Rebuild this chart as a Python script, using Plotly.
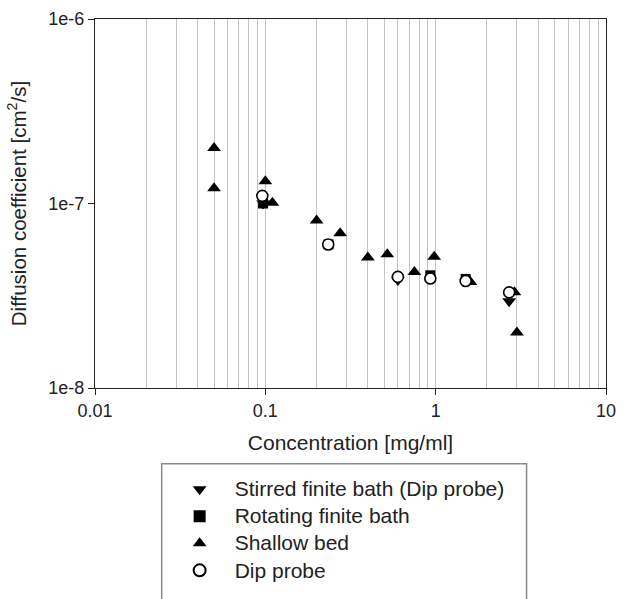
import plotly.graph_objects as go

# Data
stirred_x = [0.097, 0.6, 2.7]
stirred_y = [1.0e-7, 3.85e-8, 2.95e-8]

rotating_x = [0.097, 0.235, 0.93, 1.5]
rotating_y = [1.0e-7, 6.0e-8, 4.08e-8, 3.9e-8]

shallow_x = [0.05, 0.05, 0.1, 0.11, 0.2, 0.275, 0.4, 0.52, 0.75, 0.98, 1.6, 2.9, 3.0]
shallow_y = [2.0e-7, 1.21e-7, 1.32e-7, 1.01e-7, 8.1e-8, 6.9e-8, 5.1e-8, 5.3e-8,
             4.25e-8, 5.15e-8, 3.75e-8, 3.3e-8, 2.0e-8]

dip_x = [0.096, 0.234, 0.6, 0.93, 1.5, 2.7]
dip_y = [1.1e-7, 6.0e-8, 4.0e-8, 3.92e-8, 3.8e-8, 3.3e-8]

series_names = ["Stirred finite bath (Dip probe)", "Rotating finite bath",
                "Shallow bed", "Dip probe"]

x_major = [0.01, 0.1, 1, 10]
x_major_text = ["0.01", "0.1", "1", "10"]
y_major = [1e-8, 1e-7, 1e-6]
y_major_text = ["1e-8", "1e-7", "1e-6"]
x_minor = [k * 10.0 ** d for d in (-2, -1, 0) for k in range(2, 10)]

FONT = "Liberation Sans, Arial, Helvetica, sans-serif"

# plot area in pixels
L, R, T, B = 95, 616, 19, 394
W, H = 625, 599
PW, PH = R - L, B - T


def px_x(p):
    return (p - L) / PW


def px_y(p):
    return (B - p) / PH


def leg(name):
    return '<span style="font-size:21px">' + name + '</span>'


fig = go.Figure()
fig.add_trace(go.Scatter(x=stirred_x, y=stirred_y, mode="markers",
                         name=leg(series_names[0]),
                         marker=dict(symbol="triangle-down", size=12, color="black")))
fig.add_trace(go.Scatter(x=rotating_x, y=rotating_y, mode="markers",
                         name=leg(series_names[1]),
                         marker=dict(symbol="square", size=10, color="black")))
fig.add_trace(go.Scatter(x=shallow_x, y=shallow_y, mode="markers",
                         name=leg(series_names[2]),
                         marker=dict(symbol="triangle-up", size=12, color="black")))
fig.add_trace(go.Scatter(x=dip_x, y=dip_y, mode="markers",
                         name=leg(series_names[3]),
                         marker=dict(symbol="circle", size=11, color="white",
                                     line=dict(color="black", width=1.6))))

fig.update_layout(
    width=W, height=H,
    margin=dict(l=L, r=W - R, t=T, b=H - B),
    paper_bgcolor="white", plot_bgcolor="white",
    font=dict(family=FONT, color="#222222"),
    showlegend=True,
    legend=dict(
        x=px_x(166), xanchor="left",
        y=px_y(478), yanchor="top",
        bgcolor="rgba(0,0,0,0)", borderwidth=0,
        font=dict(family=FONT, size=18.5, color="#222222"),
        itemwidth=60, itemsizing="constant",
    ),
    shapes=[dict(type="rect", xref="paper", yref="paper",
                 x0=px_x(163), x1=px_x(535), y0=px_y(471), y1=px_y(640),
                 line=dict(color="#8a8a8a", width=1.5), fillcolor="rgba(0,0,0,0)",
                 layer="above")],
    xaxis=dict(
        type="log", range=[-2, 1],
        tickmode="array", tickvals=x_major, ticktext=x_major_text,
        tickfont=dict(size=18), ticks="outside", ticklen=6, tickcolor="#222222",
        ticklabeloverflow="allow",
        showline=True, linecolor="#222222", linewidth=1.2, mirror=True,
        showgrid=True, gridcolor="#c4c4c4", gridwidth=1,
        minor=dict(tickmode="array", tickvals=x_minor, showgrid=True,
                   gridcolor="#c4c4c4", gridwidth=1, ticks=""),
        zeroline=False,
        title=dict(text="Concentration [mg/ml]", font=dict(size=21), standoff=15),
    ),
    yaxis=dict(
        type="log", range=[-8, -6],
        tickmode="array", tickvals=y_major, ticktext=y_major_text,
        tickfont=dict(size=18), ticks="outside", ticklen=6, tickcolor="#222222",
        showline=True, linecolor="#222222", linewidth=1.2, mirror=True,
        showgrid=False, zeroline=False,
        title=dict(text="Diffusion coefficient [cm<sup>2</sup>/s]", font=dict(size=20.5),
                   standoff=16),
    ),
)

fig.write_html("out.html")
